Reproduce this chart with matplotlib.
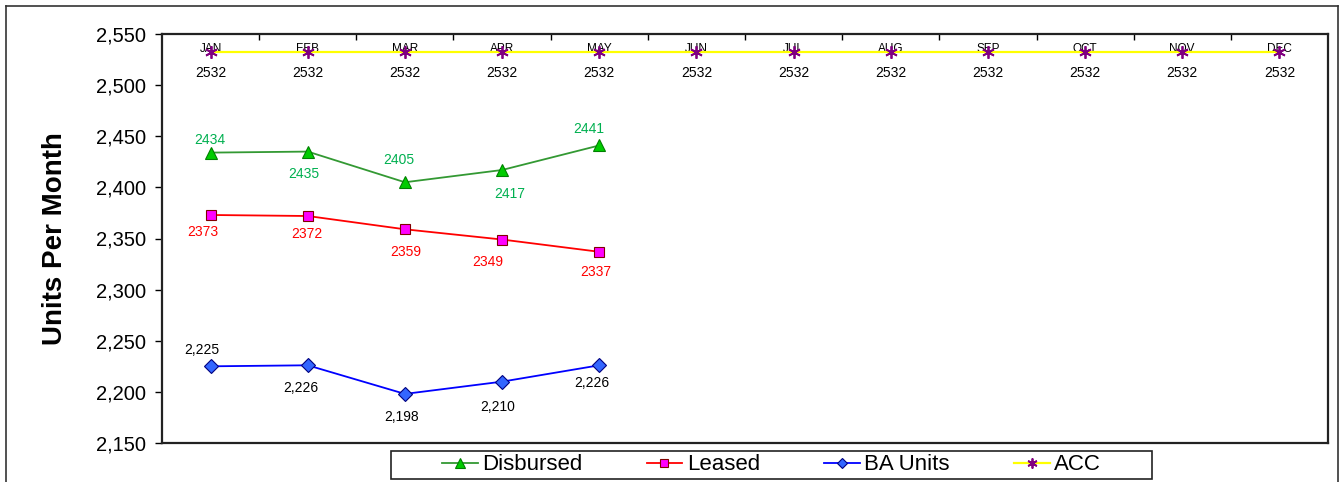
import matplotlib
matplotlib.use("Agg")
import matplotlib.pyplot as plt
from matplotlib import font_manager
from matplotlib.lines import Line2D
from matplotlib.patches import Rectangle
from matplotlib.ticker import FuncFormatter

# ---------------- data ----------------
months = ["JAN", "FEB", "MAR", "APR", "MAY", "JUN", "JUL", "AUG", "SEP", "OCT", "NOV", "DEC"]
disbursed = [2434, 2435, 2405, 2417, 2441]
leased = [2373, 2372, 2359, 2349, 2337]
ba_units = [2225, 2226, 2198, 2210, 2226]
acc = [2532] * 12

# ---------------- layout (label offsets in pixels, +y = up) ----------------
disb_off = [(-1, 13), (-4, -22), (-6, 22), (8, -24), (-11, 16)]
leased_off = [(-8, -17), (-1, -18), (1, -23), (-14, -22), (-3, -20)]
ba_off = [(-9, 16), (-7, -23), (-3, -23), (-4, -25), (-7, -18)]
acc_off = (0, -21)

plt.rcParams['font.family'] = ['Liberation Sans', 'DejaVu Sans']
names = {f.name for f in font_manager.fontManager.ttflist}
if 'Liberation Sans Narrow' in names:
    leg_family, leg_size = ['Liberation Sans Narrow', 'DejaVu Sans'], 19
else:
    leg_family, leg_size = ['Liberation Sans', 'DejaVu Sans'], 16

fig = plt.figure(figsize=(13.39, 4.82), dpi=100)
W, H = 1339, 482
ax = fig.add_axes([162 / W, 1 - 443 / H, (1328 - 162) / W, (443 - 34) / H])

x_all = list(range(len(months)))
xs = x_all[:len(disbursed)]

l_acc, = ax.plot(x_all, acc, color='#FFFF00', lw=1.6, marker=(6, 2, 0), ms=9,
                 mec='#800080', mew=1.3, zorder=3)
l_d, = ax.plot(xs, disbursed, color='#339933', lw=1.3, marker='^', ms=8.5,
               mfc='#00CC00', mec='#008000', mew=0.8, zorder=4)
l_l, = ax.plot(xs, leased, color='#FF0000', lw=1.3, marker='s', ms=7.5,
               mfc='#FF00FF', mec='#800000', mew=0.8, zorder=4)
l_b, = ax.plot(xs, ba_units, color='#0000FF', lw=1.3, marker='D', ms=7,
               mfc='#3366FF', mec='#000080', mew=0.8, zorder=4)

def label(xv, yv, txt, off, color):
    ax.annotate(txt, (xv, yv), xytext=off, textcoords='offset pixels',
                ha='center', va='center', fontsize=10, color=color, zorder=5)

for i, v in enumerate(disbursed):
    label(xs[i], v, f"{v}", disb_off[i], '#00B050')
for i, v in enumerate(leased):
    label(xs[i], v, f"{v}", leased_off[i], '#FF0000')
for i, v in enumerate(ba_units):
    label(xs[i], v, f"{v:,}", ba_off[i], 'black')
for i, v in enumerate(acc):
    label(x_all[i], v, f"{v}", acc_off, 'black')

ax.set_xlim(-0.5, len(months) - 0.5)
ax.set_ylim(2150, 2550)
ax.set_yticks(range(2150, 2551, 50))
ax.yaxis.set_major_formatter(FuncFormatter(lambda v, p: f"{int(v):,}"))
ax.tick_params(axis='y', direction='out', length=5, width=1, labelsize=14.5, pad=6.5)

ax.set_xticks(x_all)
ax.set_xticklabels(months)
ax.set_xticks([i + 0.5 for i in x_all[:-1]], minor=True)
ax.xaxis.set_ticks_position('top')
ax.tick_params(axis='x', which='major', top=True, bottom=False, labeltop=True,
               labelbottom=False, length=0, pad=-15, labelsize=8.5)
ax.tick_params(axis='x', which='minor', top=True, bottom=False, direction='in',
               length=4, width=1)

for s in ax.spines.values():
    s.set_linewidth(1.6)
    s.set_color('#222222')

ax.set_ylabel("Units Per Month", fontsize=20, fontweight='bold')
ax.yaxis.set_label_coords(-(162 - 68) / (1328 - 162), 0.5)

# outer border
bc = '#333333'
fig.add_artist(Line2D([6 / W, 6 / W], [0, 1 - 6 / H], color=bc, lw=1.2, transform=fig.transFigure))
fig.add_artist(Line2D([6 / W, 1338 / W], [1 - 6 / H, 1 - 6 / H], color=bc, lw=1.2, transform=fig.transFigure))
fig.add_artist(Line2D([1338 / W, 1338 / W], [0, 1 - 6 / H], color=bc, lw=1.2, transform=fig.transFigure))

# legend
fig.add_artist(Rectangle((391 / W, 1 - 479 / H), (1152 - 391) / W, (479 - 451) / H,
                         transform=fig.transFigure, fill=False, ec='#222222', lw=1.2))
leg = fig.legend([l_d, l_l, l_b, l_acc], ["Disbursed", "Leased", "BA Units", "ACC"],
                 loc='center', bbox_to_anchor=(771.5 / W, 1 - 465 / H), ncol=4,
                 frameon=False, prop={'family': leg_family, 'size': leg_size},
                 handlelength=1.6, handletextpad=0.2, columnspacing=2.9,
                 borderpad=0, markerscale=0.8)

fig.savefig("out.png", dpi=100)
